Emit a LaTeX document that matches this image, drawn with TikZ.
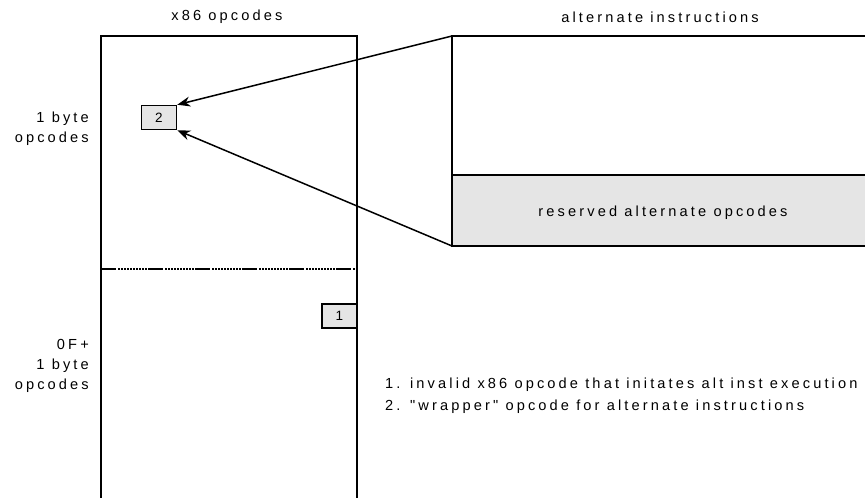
\documentclass[tikz,border=0pt]{standalone}
\usepackage{fontspec}
\setmainfont[LetterSpace=21.5, Ligatures=TeXOff]{Liberation Sans}
\usetikzlibrary{arrows.meta}
\begin{document}
\begin{tikzpicture}[x=1pt,y=-1pt,
  lbl/.style={font=\fontsize{14.6}{20}\selectfont, inner sep=0pt},
  frame/.style={line width=1.5pt, black},
  small/.style={draw, line width=1.5pt, fill=gray!20, minimum width=35pt, minimum height=24pt, inner sep=0pt, font=\fontsize{13.5}{14}\selectfont},
  arr/.style={line width=1.5pt, -{Stealth[length=13pt,width=10pt]}}]
\useasboundingbox (0,0) rectangle (865,498);
% left frame
\draw[frame] (101,498) -- (101,36) -- (357,36) -- (357,498);
\draw[line width=1.6pt, dash pattern=on 15pt off 2pt on 1.6pt off 1.4pt on 1.6pt off 1.4pt on 1.6pt off 1.4pt on 1.6pt off 1.4pt on 1.6pt off 1.4pt on 1.6pt off 1.4pt on 1.6pt off 1.4pt on 1.6pt off 1.4pt on 1.6pt off 1.4pt on 1.6pt off 1.4pt] (101,269) -- (357,269);
% right frame
\fill[gray!20] (452,175) rectangle (866,246);
\draw[frame] (866,36) -- (452,36) -- (452,246) -- (866,246);
\draw[frame] (452,175) -- (866,175);
\coordinate (rtop) at (452,36);
\coordinate (rbot) at (452,246);
% boxes
\node[small] (b2) at (159,117.5) {2};
\node[small] (b1) at (339.5,316) {1};
\draw[arr] (rtop) -- (b2.north east);
\draw[arr] (rbot) -- (b2.south east);
% labels
\node[lbl] (h1) at (227,17) {x86 opcodes};
\node[lbl] (h2) at (660,17) {alternate instructions};
\node[lbl] (res) at (663,213) {reserved alternate opcodes};
\node[lbl, anchor=east, align=right] (l1) at (89,129) {1 byte\\opcodes};
\node[lbl, anchor=east, align=right] (l2) at (89,366) {0F+\\1 byte\\opcodes};
\node[lbl, anchor=west, align=left, font=\fontsize{14.6}{22}\selectfont] (notes) at (385,396) {1. invalid x86 opcode that initates alt inst execution\\2. "wrapper" opcode for alternate instructions};
\end{tikzpicture}
\end{document}
